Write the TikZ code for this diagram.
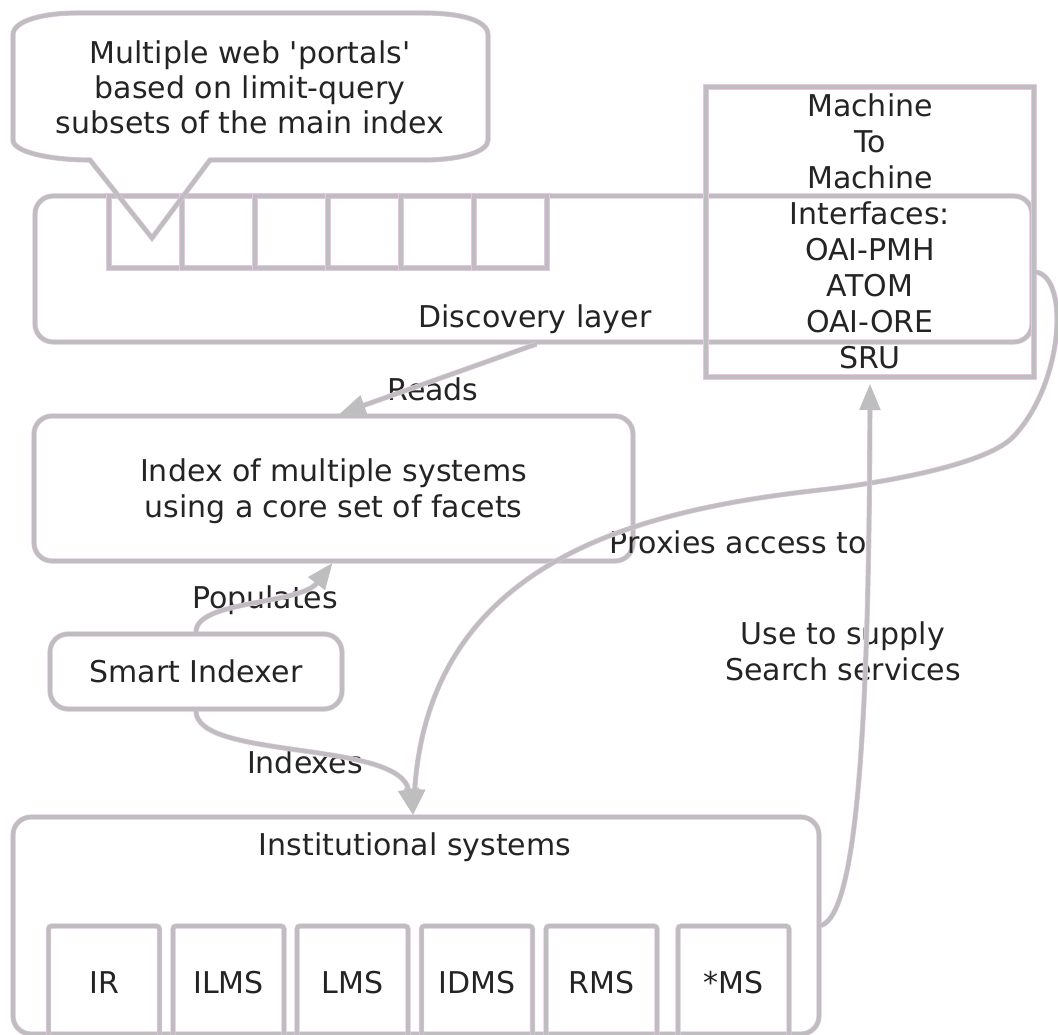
\documentclass[tikz,border=0pt]{standalone}
\usepackage{fontspec}
\newfontfamily\dv{DejaVu Sans}
\usetikzlibrary{arrows.meta}
\definecolor{lgray}{RGB}{190,190,190}
\definecolor{halo}{RGB}{232,196,232}
\definecolor{ink}{RGB}{36,36,36}
\begin{document}
\begin{tikzpicture}[x=1pt,y=-1pt,
  every node/.style={text=ink,font=\fontsize{30}{36}\dv},
  ln/.style={draw=lgray,line width=4pt,preaction={draw=halo,line width=5.2pt}},
  boxr/.style={ln,rectangle,rounded corners=18pt,inner sep=0pt},
  boxs/.style={ln,rectangle,inner sep=0pt},
  ar/.style={ln,-{Triangle[length=26pt,width=20pt]}},
  lab/.style={inner sep=0pt}]
\useasboundingbox (0,0) rectangle (1058,1035);

% Discovery layer
\node[boxr,minimum width=997pt,minimum height=146pt] (disc) at (533.5,269) {};
\foreach \i/\cx in {1/145.5,2/218.5,3/291.5,4/364.5,5/437.5,6/510.5}
  \node[boxs,minimum width=73pt,minimum height=72pt] (cell\i) at (\cx,232) {};
\node[lab,anchor=base] (ldisc) at (535,327) {Discovery layer};

% Machine to machine box
\node[boxs,minimum width=328pt,minimum height=290pt] (m2m) at (870,232) {};
\node[lab,align=center] (m2mtext) at (870,231.5) {Machine\\To\\Machine\\Interfaces:\\OAI-PMH\\ATOM\\OAI-ORE\\SRU};

% Callout bubble
\draw[ln] (77,13) -- (423,13) .. controls (460,13) and (488,20) .. (488,35) -- (488,140)
  .. controls (488,152) and (460,160) .. (423,160) -- (210,160) -- (152,238) -- (90,160)
  .. controls (50,160) and (13,152) .. (13,140) -- (13,35) .. controls (13,20) and (45,13) .. (77,13) -- cycle;
\node[lab,align=center,font=\fontsize{30}{35}\dv] (bubble) at (250,87) {Multiple web 'portals'\\based on limit-query\\subsets of the main index};

% Index
\node[boxr,minimum width=599pt,minimum height=145pt] (index) at (333.5,488.5) {};
\node[lab,align=center] (indextext) at (333.5,491.3) {Index of multiple systems\\using a core set of facets};

% Smart indexer
\node[boxr,minimum width=292pt,minimum height=75pt] (smart) at (196,671.5) {Smart Indexer};

% Institutional systems
\node[boxr,minimum width=806pt,minimum height=217pt] (inst) at (416,925.5) {};
\node[lab,anchor=base] (linst) at (415,855) {Institutional systems};
\foreach \n/\cx/\t in {ir/104/IR,ilms/228.5/ILMS,lms/352.5/LMS,idms/477/IDMS,rms/601.5/RMS,ms/733.5/*MS}
  \node[boxs,rounded corners=3pt,minimum width=111pt,minimum height=114pt] (\n) at (\cx,983) {\t};

% Labels
\node[lab,anchor=base] (lreads) at (433,400) {Reads};
\node[lab,anchor=base] (lpop) at (265,608) {Populates};
\node[lab,anchor=base] (lidx) at (305,773) {Indexes};
\node[lab,anchor=base] (lprox) at (738,553) {Proxies access to};
\node[lab,align=center] (luse) at (843,651.3) {Use to supply\\Search services};

% Connectors
\draw[ar] ([xshift=3pt]disc.south) -- ([xshift=6pt]index.north);
\draw[ar] (smart.north) .. controls (196,600) and (300,605) .. ([xshift=-1pt]index.south);
\draw[ar] (smart.south) .. controls (196,760) and (400,740) .. ([xshift=-3pt]inst.north);
\draw[ar] ([yshift=-40pt]m2m.east) .. controls (1070,278) and (1063,385) .. (1013,437)
  .. controls (985,466) and (874,484) .. (820,490)
  .. controls (640,510) and (430,560) .. ([xshift=-3pt]inst.north);
\draw[ar,shorten >=5pt] (inst.east) .. controls (855,915) and (869,750) .. (m2m.south);
\end{tikzpicture}
\end{document}
